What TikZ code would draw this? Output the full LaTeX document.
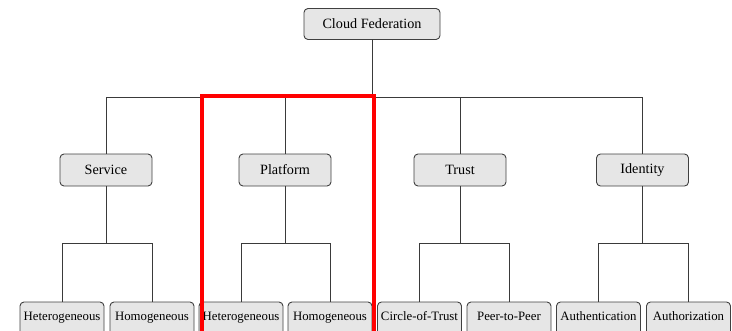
\documentclass[tikz,border=0pt]{standalone}
\usepackage{fontspec}
\setmainfont{Liberation Serif}
\definecolor{boxfill}{HTML}{E6E6E6}
\definecolor{boxline}{HTML}{404040}
\definecolor{wireline}{HTML}{3A3A3A}
\begin{document}
\begin{tikzpicture}[x=1pt,y=-1pt,
  box/.style={draw=boxline, fill=boxfill, rounded corners=4pt, line width=0.9pt,
    inner sep=0pt, font=\fontsize{14.2}{16}\selectfont},
  rootbox/.style={box, minimum width=136pt, minimum height=31pt},
  midbox/.style={box, minimum width=92pt, minimum height=32pt},
  leafbox/.style={box, minimum width=84pt, minimum height=34pt,
    text height=9pt, text depth=7pt, font=\fontsize{12.8}{15}\selectfont},
  wire/.style={draw=wireline, line width=0.9pt},
  highlight/.style={draw=red, line width=4pt, line join=miter}]
\useasboundingbox (0,0) rectangle (732,330);
\begin{scope}
\clip (0,0) rectangle (732,330);

% root
\node[rootbox] (root) at (372,24) {Cloud Federation};

% second level
\node[midbox] (svc)  at (106,170)   {Service};
\node[midbox] (plat) at (285,170)   {Platform};
\node[midbox] (trust) at (460,170)  {Trust};
\node[midbox] (ident) at (642.5,170) {Identity};

% leaves
\node[leafbox] (svcHet)  at (62,319)    {Heterogeneous};
\node[leafbox] (svcHom)  at (152,319)   {Homogeneous};
\node[leafbox] (platHet) at (241,319)   {Heterogeneous};
\node[leafbox] (platHom) at (330,319)   {Homogeneous};
\node[leafbox] (cot)     at (419.5,319) {Circle-of-Trust};
\node[leafbox] (p2p)     at (509,319)   {Peer-to-Peer};
\node[leafbox] (authn)   at (598.5,319) {Authentication};
\node[leafbox] (authz)   at (688.5,319) {Authorization};

% root to second level
\foreach \m in {svc,plat,trust,ident}
  \draw[wire] (root.south) -- ++(0,57.5) -| (\m.north);

% second level to leaves
\foreach \m/\a/\b in {svc/svcHet/svcHom, plat/platHet/platHom, trust/cot/p2p, ident/authn/authz}{
  \draw[wire] (\m.south) -- ++(0,57) -| (\a.north);
  \draw[wire] (\m.south) -- ++(0,57) -| (\b.north);
}

% highlighted branch
\draw[highlight] (202,340) -- (202,96) -- (374,96) -- (374,340);
\end{scope}
\end{tikzpicture}
\end{document}
